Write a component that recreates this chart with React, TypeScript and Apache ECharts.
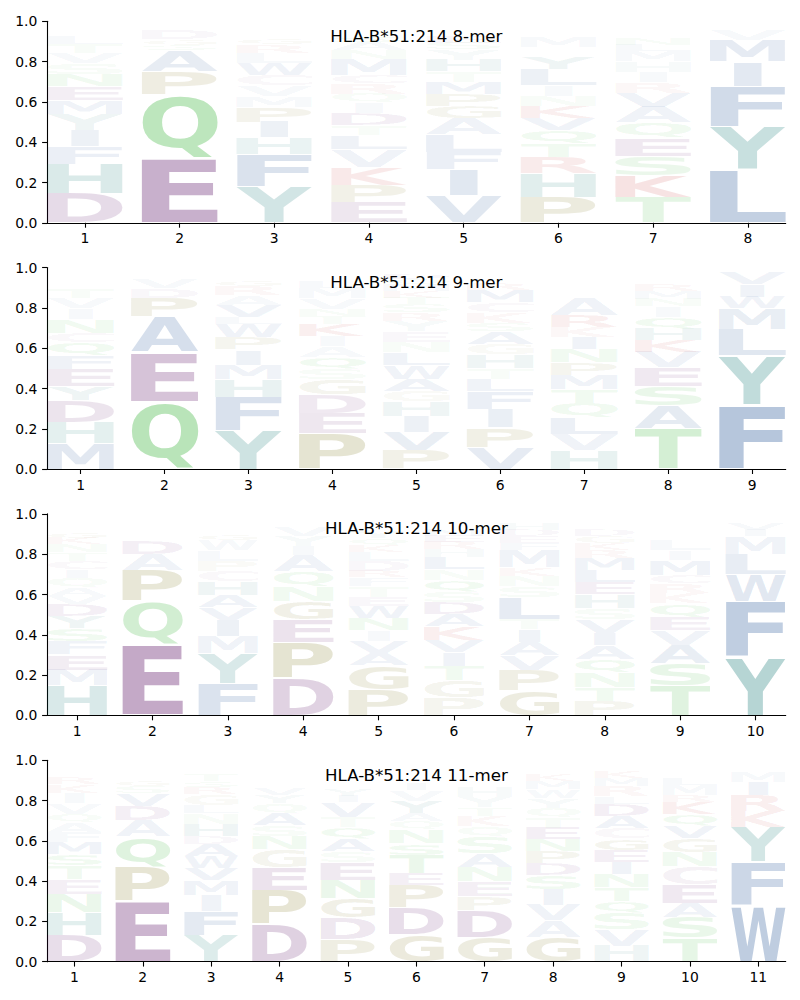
import React, { useEffect, useRef } from "react";
import * as echarts from "echarts";

type Stack = [string, number][];

// Each position lists letters from bottom to top with their heights (frequency).
const MER8: Stack[] = [
  [["D", .145], ["H", .145], ["F", .088], ["I", .08], ["Y", .08], ["M", .068], ["E", .07], ["N", .06], ["S", .055], ["V", .05], ["T", .045], ["L", .042], ["Q", .025], ["G", .02], ["A", .015], ["P", .01]],
  [["E", .32], ["Q", .315], ["P", .115], ["A", .105], ["S", .028], ["G", .028], ["D", .045], ["K", .015], ["R", .01], ["T", .008]],
  [["Y", .178], ["F", .162], ["H", .082], ["I", .078], ["P", .075], ["M", .055], ["V", .052], ["C", .052], ["W", .058], ["L", .05], ["R", .042], ["G", .03], ["S", .025], ["K", .02], ["T", .02], ["N", .01]],
  [["E", .098], ["P", .09], ["K", .088], ["V", .088], ["L", .07], ["T", .048], ["D", .06], ["I", .052], ["Q", .045], ["R", .052], ["C", .043], ["M", .077], ["N", .044], ["A", .04], ["S", .03], ["G", .025], ["F", .02], ["Y", .015], ["W", .01]],
  [["V", .135], ["I", .128], ["F", .085], ["L", .088], ["A", .082], ["G", .06], ["P", .058], ["M", .062], ["T", .052], ["H", .057], ["Y", .052], ["S", .035], ["E", .03], ["Q", .025], ["K", .02], ["N", .015], ["D", .01]],
  [["P", .128], ["H", .118], ["R", .08], ["T", .07], ["Q", .065], ["V", .058], ["K", .058], ["N", .052], ["I", .052], ["L", .08], ["Y", .058], ["A", .025], ["W", .025], ["M", .05], ["S", .025], ["G", .02], ["F", .02], ["E", .015]],
  [["T", .128], ["K", .108], ["S", .095], ["E", .09], ["Q", .075], ["A", .078], ["V", .07], ["R", .052], ["I", .052], ["H", .052], ["M", .05], ["L", .03], ["N", .03], ["G", .02], ["D", .02], ["Y", .015], ["W", .01], ["F", .01]],
  [["L", .262], ["Y", .215], ["F", .2], ["I", .122], ["M", .108], ["V", .055], ["W", .015], ["A", .01]],
];

const MER9: Stack[] = [
  [["M", .125], ["H", .105], ["D", .11], ["Y", .07], ["E", .085], ["F", .07], ["Q", .065], ["C", .045], ["N", .07], ["I", .052], ["V", .052], ["T", .045], ["K", .025], ["A", .025], ["L", .02], ["W", .015], ["R", .01], ["P", .01]],
  [["Q", .335], ["E", .245], ["A", .175], ["P", .095], ["D", .048], ["V", .045], ["S", .02], ["G", .015], ["K", .01]],
  [["Y", .192], ["F", .165], ["H", .088], ["M", .072], ["I", .075], ["P", .062], ["W", .065], ["L", .035], ["V", .058], ["A", .05], ["R", .045], ["G", .03], ["S", .025], ["K", .02], ["T", .015]],
  [["P", .178], ["E", .098], ["D", .092], ["G", .078], ["S", .052], ["Q", .058], ["A", .052], ["I", .052], ["K", .058], ["T", .042], ["N", .035], ["V", .052], ["M", .05], ["L", .03], ["R", .025], ["H", .02], ["Y", .015], ["W", .01]],
  [["P", .092], ["V", .092], ["I", .078], ["H", .072], ["G", .052], ["A", .062], ["W", .068], ["L", .062], ["N", .052], ["E", .052], ["Y", .052], ["R", .042], ["S", .042], ["T", .032], ["K", .032], ["M", .032], ["Q", .03], ["D", .028], ["F", .02]],
  [["V", .108], ["P", .098], ["I", .092], ["F", .088], ["L", .062], ["T", .052], ["H", .068], ["G", .052], ["A", .062], ["S", .042], ["K", .052], ["C", .05], ["M", .062], ["R", .03], ["E", .025], ["N", .02], ["Q", .015], ["W", .01], ["Y", .01]],
  [["H", .092], ["V", .082], ["L", .082], ["Q", .072], ["T", .067], ["M", .072], ["P", .062], ["N", .067], ["I", .058], ["K", .052], ["R", .058], ["A", .088], ["E", .025], ["S", .02], ["G", .02], ["W", .02], ["D", .02], ["Y", .015], ["F", .01], ["C", .01]],
  [["T", .202], ["A", .112], ["S", .098], ["E", .092], ["V", .077], ["K", .058], ["H", .058], ["Q", .058], ["I", .052], ["N", .037], ["M", .037], ["R", .03], ["G", .025], ["L", .02], ["P", .015], ["Y", .015], ["D", .01]],
  [["F", .318], ["Y", .245], ["L", .132], ["M", .102], ["W", .058], ["I", .062], ["V", .058], ["A", .015]],
];

const MER10: Stack[] = [
  [["H", .148], ["M", .078], ["E", .075], ["F", .068], ["S", .062], ["Y", .062], ["D", .058], ["V", .04], ["A", .04], ["Q", .052], ["I", .042], ["C", .042], ["T", .042], ["N", .042], ["K", .03], ["G", .03], ["L", .025], ["W", .02], ["R", .02], ["P", .01]],
  [["E", .35], ["Q", .215], ["P", .155], ["A", .078], ["D", .068], ["S", .025], ["G", .025], ["Y", .02], ["N", .02], ["T", .015], ["K", .01], ["V", .01]],
  [["F", .158], ["Y", .148], ["M", .088], ["I", .078], ["V", .062], ["A", .062], ["H", .068], ["C", .052], ["P", .052], ["L", .052], ["W", .052], ["G", .03], ["S", .025], ["R", .02], ["T", .02], ["K", .015], ["N", .01]],
  [["D", .185], ["P", .175], ["E", .115], ["G", .09], ["N", .075], ["Q", .075], ["A", .08], ["I", .045], ["Y", .05], ["V", .045], ["S", .02], ["T", .015], ["K", .01], ["L", .01]],
  [["P", .128], ["G", .118], ["A", .062], ["V", .062], ["I", .052], ["N", .058], ["W", .062], ["E", .045], ["T", .055], ["F", .042], ["R", .03], ["D", .05], ["L", .045], ["K", .035], ["Q", .035], ["Y", .03], ["H", .025], ["M", .025], ["S", .02]],
  [["P", .088], ["G", .085], ["T", .072], ["I", .068], ["V", .062], ["K", .068], ["A", .06], ["D", .058], ["S", .052], ["Q", .058], ["N", .052], ["L", .06], ["H", .042], ["R", .037], ["E", .03], ["M", .03], ["Y", .025], ["F", .02], ["W", .015], ["C", .01]],
  [["G", .122], ["P", .102], ["V", .072], ["A", .068], ["I", .062], ["T", .052], ["L", .11], ["S", .052], ["N", .052], ["K", .042], ["M", .085], ["F", .035], ["E", .035], ["D", .03], ["H", .03], ["Y", .025], ["R", .02]],
  [["P", .072], ["T", .068], ["N", .072], ["Q", .068], ["A", .068], ["I", .062], ["V", .068], ["S", .055], ["H", .068], ["E", .058], ["L", .062], ["M", .058], ["R", .042], ["K", .035], ["G", .035], ["D", .03], ["Y", .025], ["F", .02], ["W", .015], ["C", .01]],
  [["T", .148], ["S", .108], ["A", .092], ["V", .072], ["E", .068], ["Q", .068], ["K", .05], ["R", .048], ["C", .042], ["M", .075], ["I", .048], ["L", .05], ["G", .025], ["H", .02], ["N", .02], ["W", .02], ["D", .015], ["P", .015], ["Y", .01]],
  [["Y", .288], ["F", .275], ["W", .135], ["L", .102], ["M", .088], ["I", .032], ["V", .03], ["R", .02], ["K", .015], ["A", .01]],
];

const MER11: Stack[] = [
  [["D", .132], ["H", .112], ["N", .092], ["E", .072], ["T", .068], ["S", .058], ["M", .058], ["F", .052], ["A", .048], ["Q", .042], ["V", .052], ["I", .052], ["K", .042], ["R", .03], ["W", .025], ["L", .02], ["G", .02], ["Y", .015], ["P", .01]],
  [["E", .302], ["P", .168], ["Q", .152], ["A", .078], ["D", .072], ["V", .062], ["S", .035], ["G", .03], ["Y", .025], ["T", .025], ["N", .02], ["C", .015], ["K", .01], ["R", .01]],
  [["Y", .132], ["F", .118], ["I", .082], ["M", .072], ["V", .062], ["W", .058], ["A", .058], ["D", .04], ["H", .062], ["N", .052], ["L", .042], ["G", .052], ["R", .035], ["S", .03], ["T", .03], ["K", .025], ["Q", .02], ["C", .015], ["E", .01]],
  [["D", .188], ["P", .168], ["E", .112], ["G", .088], ["N", .068], ["S", .052], ["A", .058], ["Q", .052], ["Y", .04], ["V", .035], ["T", .025], ["K", .025], ["H", .02], ["R", .02], ["M", .015], ["I", .015], ["L", .01]],
  [["P", .108], ["D", .108], ["G", .098], ["N", .092], ["E", .088], ["S", .052], ["A", .062], ["Q", .058], ["T", .052], ["V", .072], ["I", .03], ["Y", .03], ["K", .025], ["H", .025], ["R", .02], ["L", .02], ["M", .015], ["F", .015], ["W", .01]],
  [["G", .132], ["D", .135], ["P", .112], ["E", .058], ["T", .092], ["S", .058], ["N", .068], ["Q", .042], ["A", .038], ["Y", .062], ["V", .052], ["I", .03], ["K", .025], ["H", .02], ["R", .02], ["L", .015], ["M", .01]],
  [["G", .122], ["D", .132], ["P", .068], ["E", .075], ["N", .072], ["A", .068], ["S", .082], ["Q", .052], ["K", .052], ["T", .042], ["Y", .052], ["H", .052], ["R", .025], ["V", .025], ["I", .02], ["M", .015], ["L", .015], ["C", .01]],
  [["G", .122], ["A", .082], ["V", .078], ["I", .078], ["S", .072], ["D", .058], ["P", .058], ["N", .058], ["E", .058], ["T", .052], ["Q", .048], ["Y", .048], ["W", .042], ["M", .042], ["K", .03], ["R", .025], ["L", .02], ["H", .015]],
  [["H", .078], ["V", .082], ["S", .082], ["Q", .058], ["T", .068], ["N", .068], ["I", .058], ["E", .058], ["G", .058], ["C", .052], ["A", .062], ["D", .06], ["L", .035], ["R", .052], ["M", .04], ["K", .035], ["W", .02], ["F", .015], ["Y", .01]],
  [["T", .118], ["S", .102], ["A", .072], ["E", .092], ["C", .088], ["N", .072], ["G", .068], ["V", .062], ["Q", .058], ["K", .058], ["R", .035], ["M", .05], ["L", .03], ["I", .025], ["H", .02], ["Y", .015], ["D", .015], ["W", .01]],
  [["W", .278], ["F", .218], ["Y", .172], ["K", .078], ["R", .078], ["I", .068], ["M", .052], ["V", .025], ["L", .015], ["A", .01]],
];

const TITLES = ["HLA-B*51:214 8-mer", "HLA-B*51:214 9-mer", "HLA-B*51:214 10-mer", "HLA-B*51:214 11-mer"];
const PANEL_STACKS = [MER8, MER9, MER10, MER11];
const Y_TICKS = [0, 0.2, 0.4, 0.6, 0.8, 1.0];

const ALPHABET = "ACDEFGHIKLMNPQRSTVWY";
const BLUE: [number, number, number] = [25, 75, 145];
const TEAL: [number, number, number] = [0, 110, 105];
const GREEN: [number, number, number] = [45, 175, 45];
const PURPLE: [number, number, number] = [85, 10, 95];
const OLIVE: [number, number, number] = [110, 100, 0];
const RED: [number, number, number] = [180, 0, 0];
const GREY_PURPLE: [number, number, number] = [120, 60, 120];
const LETTER_COLORS: Record<string, [number, number, number]> = {
  A: BLUE, V: BLUE, L: BLUE, I: BLUE, M: BLUE, F: BLUE, W: BLUE,
  Y: TEAL, H: TEAL,
  S: GREEN, T: GREEN, N: GREEN, Q: GREEN,
  D: PURPLE, E: PURPLE,
  P: OLIVE, G: OLIVE,
  K: RED, R: RED,
  C: GREY_PURPLE,
};

const FONT = "DejaVu Sans";
const LEFT = 47;
const PLOT_W = 738.7;
const TOP0 = 21.3;
const STEP = 246.3;
const PLOT_H = 201.5;
const VPAD = 0.02;

type GlyphM = { l: number; r: number; a: number; d: number };

function measure() {
  const canvas = document.createElement("canvas");
  const ctx = canvas.getContext("2d")!;
  ctx.font = `bold 100px "${FONT}"`;
  const m: Record<string, GlyphM> = {};
  for (const ch of ALPHABET) {
    const t = ctx.measureText(ch);
    m[ch] = { l: t.actualBoundingBoxLeft, r: t.actualBoundingBoxRight, a: t.actualBoundingBoxAscent, d: t.actualBoundingBoxDescent };
  }
  const te = ctx.measureText("E");
  const fA = (te as any).fontBoundingBoxAscent ?? 92.8;
  const fD = (te as any).fontBoundingBoxDescent ?? 23.6;
  let center = (fA - fD) / 2;
  try {
    const ns = "http://www.w3.org/2000/svg";
    const svg = document.createElementNS(ns, "svg");
    svg.setAttribute("width", "400");
    svg.setAttribute("height", "400");
    svg.style.position = "absolute";
    svg.style.left = "-1000px";
    const txt = document.createElementNS(ns, "text");
    txt.setAttribute("x", "0");
    txt.setAttribute("y", "0");
    txt.setAttribute("dominant-baseline", "central");
    txt.setAttribute("style", `font: bold 100px "${FONT}"`);
    txt.textContent = "E";
    svg.appendChild(txt);
    document.body.appendChild(svg);
    const bb = (txt as any).getBBox();
    document.body.removeChild(svg);
    if (bb && bb.height > 0) {
      center = bb.y + bb.height * (fA / (fA + fD));
    }
  } catch (e) {
    // keep formula value
  }
  return { m, center };
}

export default function App() {
  const ref = useRef<HTMLDivElement>(null);
  useEffect(() => {
    if (!ref.current) return;
    const chart = echarts.init(ref.current, undefined, { renderer: "svg" });
    const metrics = measure();
    const eW = metrics.m["E"].l + metrics.m["E"].r;

    const grids: any[] = [];
    const xAxes: any[] = [];
    const yAxes: any[] = [];
    const series: any[] = [];
    const graphics: any[] = [];

    PANEL_STACKS.forEach((stacks, i) => {
      const n = stacks.length;
      const top = TOP0 + i * STEP;
      grids.push({ left: LEFT, top, width: PLOT_W, height: PLOT_H });
      const positions = stacks.map((_, k) => k + 1);
      xAxes.push({
        type: "value", gridIndex: i, min: 0.6, max: n + 0.4,
        axisLine: { show: true, onZero: false, lineStyle: { color: "#000", width: 1.1 } },
        axisTick: { show: true, length: 4.9, customValues: positions, lineStyle: { color: "#000", width: 1.1 } },
        axisLabel: { customValues: positions, fontSize: 13.9, color: "#000", fontFamily: FONT, margin: 8.5 },
        splitLine: { show: false },
      });
      yAxes.push({
        type: "value", gridIndex: i, min: 0, max: 1, interval: 0.2,
        axisLine: { show: true, lineStyle: { color: "#000", width: 1.1 } },
        axisTick: { show: true, length: 4.9, lineStyle: { color: "#000", width: 1.1 } },
        axisLabel: { fontSize: 13.9, color: "#000", fontFamily: FONT, margin: 9.7, formatter: (v: number) => v.toFixed(1), customValues: Y_TICKS },
        splitLine: { show: false },
      });
      const data: number[][] = [];
      stacks.forEach((stack, k) => {
        let y = 0;
        stack.forEach(([ch, h]) => {
          data.push([k + 1, y, y + h, ALPHABET.indexOf(ch), h]);
          y += h;
        });
      });
      series.push({
        type: "custom", xAxisIndex: i, yAxisIndex: i, silent: true, clip: false,
        data,
        renderItem: (params: any, api: any) => {
          const pos = api.value(0), y0 = api.value(1), y1 = api.value(2), li = api.value(3), h = api.value(4);
          const ch = ALPHABET[li];
          const p0 = api.coord([pos - 0.4, y1]);
          const p1 = api.coord([pos + 0.4, y0]);
          const W = p1[0] - p0[0];
          const H = p1[1] - p0[1];
          const pad = H * VPAD;
          const boxTop = p0[1] + pad;
          const boxH = H - 2 * pad;
          const g = metrics.m[ch];
          const gw = g.l + g.r;
          const gh = g.a + g.d;
          const sx = Math.min(W / gw, W / eW);
          const sy = boxH / gh;
          const xc = (p0[0] + p1[0]) / 2;
          const px = xc - (sx * (g.r - g.l)) / 2;
          const py = boxTop - sy * (metrics.center - g.a);
          const c = LETTER_COLORS[ch];
          const alpha = Math.min(1, h);
          return {
            type: "text", x: px, y: py, scaleX: sx, scaleY: sy, silent: true,
            style: {
              text: ch, x: 0, y: 0,
              fill: `rgba(${c[0]},${c[1]},${c[2]},${alpha.toFixed(3)})`,
              fontSize: 100, fontFamily: FONT, fontWeight: "bold",
              align: "left", verticalAlign: "middle",
            },
          };
        },
      });
      graphics.push({
        type: "text", x: LEFT + PLOT_W / 2, y: 36.1 + i * STEP, silent: true,
        style: { text: TITLES[i], fontSize: 16.67, fontFamily: FONT, fill: "#000", align: "center", verticalAlign: "middle" },
      });
    });

    chart.setOption({
      animation: false,
      backgroundColor: "#fff",
      grid: grids,
      xAxis: xAxes,
      yAxis: yAxes,
      series,
      graphic: graphics,
    });
    return () => chart.dispose();
  }, []);
  return <div ref={ref} style={{ position: "absolute", left: 0, top: 0, width: 800, height: 1000 }} />;
}
